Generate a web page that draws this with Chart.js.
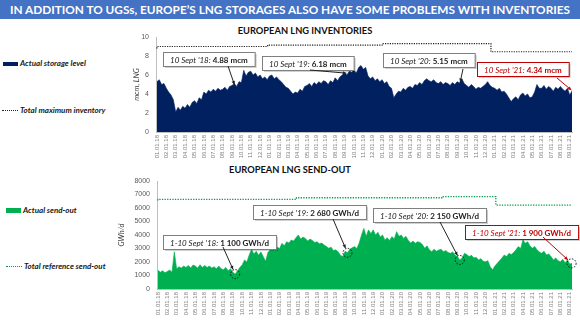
<!DOCTYPE html>
<html lang="en">
<head>
<meta charset="UTF-8">
<title>European LNG inventories and send-out</title>
<script src="https://cdn.jsdelivr.net/npm/chart.js"></script>
<style>
  body { margin: 0; width: 580px; height: 326px; position: relative; overflow: hidden; background: #fff; font-family: Lato, "Open Sans", sans-serif; }
  .banner { position: absolute; left: 0; top: 0; width: 580px; height: 19px; background: #4472C4; color: #fff; font-weight: bold; font-size: 11.8px; line-height: 19px; text-align: center; white-space: nowrap; }
  .ctitle { position: absolute; width: 240px; text-align: center; font-weight: bold; font-size: 9.3px; color: #111; white-space: nowrap; }
  .leg { position: absolute; font-size: 8px; font-weight: bold; font-style: italic; color: #1a1a1a; white-space: nowrap; line-height: 10px; }
  .leg i { display: inline-block; vertical-align: middle; margin-right: 2px; }
  canvas { position: absolute; }
</style>
</head>
<body>
  <div class="banner">IN ADDITION TO UGSs, EUROPE’S LNG STORAGES ALSO HAVE SOME PROBLEMS WITH INVENTORIES</div>

  <div class="ctitle" style="left:185px; top:25px">EUROPEAN LNG INVENTORIES</div>
  <div class="ctitle" style="left:170px; top:164px">EUROPEAN LNG SEND-OUT</div>

  <div class="leg" style="left:3px; top:58px"><i style="width:15px; height:4px; background:#002060"></i>Actual storage level</div>
  <div class="leg" style="left:2px; top:105px"><i style="width:16px; border-top:1px dotted #222"></i>Total maximum inventory</div>
  <div class="leg" style="left:6px; top:205px"><i style="width:15px; height:5px; background:#00B050"></i>Actual send-out</div>
  <div class="leg" style="left:6px; top:261px"><i style="width:16px; border-top:1px dotted #00A050"></i>Total reference send-out</div>

  <canvas id="chartStock" width="480" height="140" style="left:100px; top:22px"></canvas>
  <canvas id="chartSend" width="480" height="164" style="left:100px; top:162px"></canvas>

<script>
// month tick labels (first day of each month)
var monthLabels = [
  '01.01.18','02.01.18','03.01.18','04.01.18','05.01.18','06.01.18','07.01.18','08.01.18','09.01.18','10.01.18','11.01.18','12.01.18',
  '01.01.19','02.01.19','03.01.19','04.01.19','05.01.19','06.01.19','07.01.19','08.01.19','09.01.19','10.01.19','11.01.19','12.01.19',
  '01.01.20','02.01.20','03.01.20','04.01.20','05.01.20','06.01.20','07.01.20','08.01.20','09.01.20','10.01.20','11.01.20','12.01.20',
  '01.01.21','02.01.21','03.01.21','04.01.21','05.01.21','06.01.21','07.01.21','08.01.21','09.01.21'
];

// storage level, mcm LNG, four readings per month
var storage = [
  5.3, 5.5, 5.0, 5.1,   4.6, 4.2, 3.9, 3.4,   2.1, 2.6, 2.3, 2.7,   2.5, 2.9, 2.6, 3.1,
  3.3, 3.0, 3.6, 3.4,   4.2, 4.0, 4.4, 4.2,   4.5, 4.3, 4.6, 4.4,   4.5, 4.7, 4.4, 4.8,
  4.9, 5.1, 4.8, 5.3,   5.2, 6.5, 5.9, 6.3,   6.4, 6.0, 6.2, 5.8,   6.0, 5.6, 5.8, 5.5,
  5.9, 6.0, 5.6, 5.8,   5.5, 5.3, 5.0, 4.7,   4.6, 4.3, 4.0, 4.2,   4.1, 4.5, 4.3, 4.8,
  4.9, 5.1, 4.8, 5.2,   5.0, 5.3, 5.1, 5.4,   5.3, 5.0, 5.4, 5.2,   5.7, 5.4, 5.8, 6.0,
  6.2, 6.0, 6.4, 6.3,   6.5, 6.2, 6.8, 7.0,   6.6, 6.8, 5.9, 5.6,   5.8, 5.4, 5.6, 5.3,
  5.5, 5.1, 5.3, 4.8,   4.6, 3.6, 4.0, 4.3,   4.2, 4.6, 4.4, 4.7,   4.8, 4.6, 5.0, 4.9,
  5.2, 5.0, 5.4, 5.6,   5.4, 5.3, 5.5, 5.2,   5.1, 5.3, 5.0, 5.2,   5.1, 4.9, 5.2, 5.0,
  5.3, 5.15, 5.6, 5.1,  4.9, 4.7, 5.0, 4.8,   4.5, 4.7, 4.6, 4.8,   5.0, 5.3, 4.9, 4.7,
  4.6, 4.4, 4.6, 4.2,   4.3, 4.0, 3.6, 3.2,   3.5, 3.7, 3.4, 3.9,   4.1, 3.8, 4.0, 3.6,
  3.7, 4.2, 5.0, 4.6,   4.6, 4.9, 4.5, 4.8,   4.6, 4.3, 4.7, 4.5,   4.8, 4.5, 4.3, 4.6,
  3.9, 4.34
];

// total maximum inventory, mcm LNG (month position where level changes)
var maxInvAt =  [0,   11.8, 24,   35.6, 37.3, 44.25];
var maxInvVal = [8.8, 9.0,  9.15, 9.3,  8.45, 8.45];

// send-out, GWh/d, four readings per month
var sendOut = [
  1400, 1250, 1350, 1200,   1300, 1400, 1250, 2760,   1500, 1650, 1550, 1700,   1600, 1750, 1550, 1780,
  1700, 1550, 1800, 1600,   1750, 1600, 1700, 1550,   1650, 1500, 1700, 1500,   1430, 1600, 1350, 1500,
  1250, 1100, 1350, 1600,   1780, 2150, 2000, 2520,   2940, 2600, 2800, 2500,   2750, 2400, 2050, 2700,
  2900, 3020, 2850, 3100,   3000, 3380, 3200, 3500,   3400, 3630, 3550, 3800,   4000, 3700, 3850, 3750,
  3550, 3700, 3600, 3450,   3500, 3350, 3400, 3260,   3150, 3020, 3100, 2850,   2900, 2760, 2500, 2400,
  2800, 2680, 2950, 3050,   3140, 3000, 3400, 4000,   4490, 3900, 4380, 4100,   4380, 4000, 4200, 3850,
  4000, 3630, 3800, 3600,   3880, 3700, 4250, 3900,   4000, 3750, 3900, 3600,   3400, 3550, 3380, 3500,
  3450, 3300, 3020, 3200,   2900, 2760, 2950, 2800,   2880, 2950, 2760, 2850,   2700, 2640, 2750, 2500,
  2400, 2150, 2300, 2640,   2550, 2400, 2500, 2300,   2350, 2150, 2250, 2050,   2020, 2100, 1650, 1430,
  1700, 1900, 2100, 2300,   2520, 2400, 2640, 2550,   2700, 2900, 3140, 3000,   3630, 3380, 3500, 3200,
  3020, 3150, 2900, 2750,   2640, 2800, 2520, 2600,   2400, 2150, 2300, 2100,   2020, 2200, 1950, 2150,
  1850, 1900
];

// total reference send-out, GWh/d
var refAt =  [0,    14.8, 30.4, 36.1, 37.7, 44.25];
var refVal = [6550, 6640, 6760, 6840, 6220, 6220];

// call-outs: month position, value, italic lead, bold amount
var stockNotes = [
  { at: 8.3,  value: 4.88, lead: "10 Sept '18:", amount: ' 4.88 mcm', bx: 63,  by: 30, ax: 128, ay: 44 },
  { at: 20.3, value: 6.18, lead: "10 Sept '19:", amount: ' 6.18 mcm', bx: 162, by: 34, ax: 210, ay: 48 },
  { at: 32.3, value: 5.15, lead: "10 Sept '20:", amount: ' 5.15 mcm', bx: 283, by: 31, ax: 363, ay: 47 },
  { at: 44.25, value: 4.34, lead: "10 Sept '21:", amount: ' 4.34 mcm', bx: 377, by: 40, ax: 457, ay: 56, red: true }
];
var sendNotes = [
  { at: 8.25, value: 1100, lead: "1-10 Sept '18:", amount: ' 1 100 GWh/d', bx: 63,  by: 73, ax: 123, ay: 85, circle: true },
  { at: 20.25, value: 2680, lead: "1-10 Sept '19:", amount: ' 2 680 GWh/d', bx: 153, by: 43, ax: 233, ay: 57, circle: true },
  { at: 32.25, value: 2150, lead: "1-10 Sept '20:", amount: ' 2 150 GWh/d', bx: 273, by: 46, ax: 340, ay: 60, circle: true },
  { at: 44.2, value: 1900, lead: "1-10 Sept '21:", amount: ' 1 900 GWh/d', bx: 365, by: 63, ax: 443, ay: 75, circle: true, red: true }
];

function toPoints(values) {
  return values.map(function (v, i) { return { x: i / 4, y: v }; });
}
function stepPoints(at, vals) {
  return at.map(function (a, i) { return { x: a, y: vals[i] }; });
}

function drawNotes(chart, notes) {
  var ctx = chart.ctx;
  var xs = chart.scales.x, ys = chart.scales.y;
  ctx.save();
  notes.forEach(function (n) {
    var col = n.red ? '#C00000' : '#222';
    ctx.font = 'italic 8px Lato';
    var w1 = ctx.measureText(n.lead).width;
    ctx.font = 'bold 8px Lato';
    var w2 = ctx.measureText(n.amount).width;
    var w = w1 + w2 + 14, h = 14;
    // box with soft shadow
    ctx.fillStyle = 'rgba(0,0,0,0.18)';
    ctx.fillRect(n.bx + 2, n.by + 2, w, h);
    ctx.fillStyle = '#fff';
    ctx.fillRect(n.bx, n.by, w, h);
    ctx.strokeStyle = n.red ? '#C00000' : '#7f7f7f';
    ctx.lineWidth = 1;
    ctx.strokeRect(n.bx + 0.5, n.by + 0.5, w, h);
    ctx.fillStyle = col;
    ctx.textBaseline = 'middle';
    ctx.font = 'italic 8px Lato';
    ctx.fillText(n.lead, n.bx + 7, n.by + h / 2 + 1);
    ctx.font = 'bold 8px Lato';
    ctx.fillText(n.amount, n.bx + 7 + w1, n.by + h / 2 + 1);

    // arrow to the point
    var px = xs.getPixelForValue(n.at), py = ys.getPixelForValue(n.value);
    var dx = px - n.ax, dy = py - n.ay, len = Math.sqrt(dx * dx + dy * dy);
    var cut = n.circle ? 5 : 1;
    var ex = px - dx / len * cut, ey = py - dy / len * cut;
    ctx.strokeStyle = col;
    ctx.beginPath();
    ctx.moveTo(n.ax, n.ay);
    ctx.lineTo(ex, ey);
    ctx.stroke();
    var ang = Math.atan2(dy, dx);
    ctx.fillStyle = col;
    ctx.beginPath();
    ctx.moveTo(ex, ey);
    ctx.lineTo(ex - 4 * Math.cos(ang - 0.45), ey - 4 * Math.sin(ang - 0.45));
    ctx.lineTo(ex - 4 * Math.cos(ang + 0.45), ey - 4 * Math.sin(ang + 0.45));
    ctx.closePath();
    ctx.fill();

    if (n.circle) {
      ctx.strokeStyle = '#111';
      ctx.setLineDash([1.5, 1.5]);
      ctx.beginPath();
      ctx.arc(px, py, 4.5, 0, Math.PI * 2);
      ctx.stroke();
      ctx.setLineDash([]);
    }
  });
  ctx.restore();
}

function baseOptions(yMax, yStep, yTitle, padLeft, yWidth, padTop, xHeight) {
  return {
    responsive: false,
    animation: false,
    devicePixelRatio: 1,
    layout: { padding: { left: padLeft, right: 7, top: padTop, bottom: 0 } },
    plugins: { legend: { display: false }, tooltip: { enabled: false } },
    scales: {
      x: {
        type: 'linear',
        min: -0.1,
        max: 44.25,
        grid: { display: false, drawTicks: false },
        border: { display: true, color: '#bfbfbf' },
        afterBuildTicks: function (s) { s.ticks = monthLabels.map(function (l, i) { return { value: i }; }); },
        afterFit: function (s) { s.height = xHeight; },
        ticks: {
          autoSkip: false, maxRotation: 90, minRotation: 90, padding: 3,
          font: { family: 'Liberation Sans', size: 6 }, color: '#7f7f7f',
          callback: function (v) { return monthLabels[v]; }
        }
      },
      y: {
        min: 0,
        max: yMax,
        grid: { display: false, drawTicks: false },
        border: { display: true, color: '#bfbfbf' },
        afterFit: function (s) { s.width = yWidth; },
        ticks: { stepSize: yStep, padding: 7, format: { useGrouping: false }, font: { family: 'Liberation Sans', size: 7 }, color: '#595959' },
        title: { display: true, text: yTitle, font: { family: 'Lato', size: 7.5, style: 'italic' }, color: '#404040', padding: 2 }
      }
    }
  };
}

var optStock = baseOptions(10, 2, 'mcm, LNG', 30, 26, 15, 30);
new Chart(document.getElementById('chartStock').getContext('2d'), {
  type: 'line',
  data: {
    datasets: [
      {
        label: 'Actual storage level',
        data: toPoints(storage),
        fill: 'origin',
        backgroundColor: '#002060',
        borderColor: '#002060',
        borderWidth: 0.6,
        pointRadius: 0
      },
      {
        label: 'Total maximum inventory',
        data: stepPoints(maxInvAt, maxInvVal),
        stepped: 'after',
        fill: false,
        borderColor: '#222',
        borderWidth: 1.2,
        borderDash: [1.2, 1.2],
        pointRadius: 0
      }
    ]
  },
  options: optStock,
  plugins: [{ id: 'notesStock', afterDraw: function (c) { drawNotes(c, stockNotes); } }]
});

var optSend = baseOptions(8000, 1000, 'GWh/d', 15, 42, 19, 37);
new Chart(document.getElementById('chartSend').getContext('2d'), {
  type: 'line',
  data: {
    datasets: [
      {
        label: 'Actual send-out',
        data: toPoints(sendOut),
        fill: 'origin',
        backgroundColor: '#00B050',
        borderColor: '#00B050',
        borderWidth: 0.6,
        pointRadius: 0
      },
      {
        label: 'Total reference send-out',
        data: stepPoints(refAt, refVal),
        stepped: 'after',
        fill: false,
        borderColor: '#00A050',
        borderWidth: 1.3,
        borderDash: [1.3, 1.3],
        pointRadius: 0
      }
    ]
  },
  options: optSend,
  plugins: [{ id: 'notesSend', afterDraw: function (c) { drawNotes(c, sendNotes); } }]
});
</script>
</body>
</html>
